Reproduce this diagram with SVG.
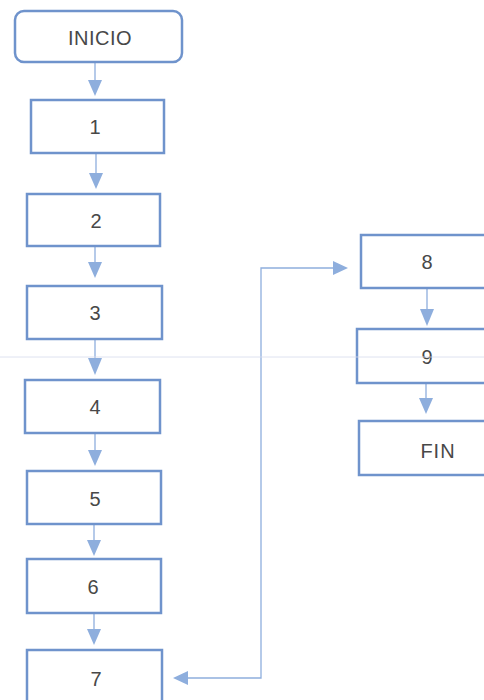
<svg xmlns="http://www.w3.org/2000/svg" width="484" height="700" viewBox="0 0 484 700">
<style>
.box{fill:#fff;stroke:#6f93cc;stroke-width:2.5}
.lbl{font-family:"Liberation Sans",Arial,sans-serif;font-size:20px;fill:#484848;text-anchor:middle}
.ln{stroke:#8eaedd;stroke-width:1.3;fill:none}
.hd{fill:#8eaedd}
</style>
<rect width="484" height="700" fill="#fff"/>
<g id="connectors">
<line class="ln" x1="95" y1="62" x2="95" y2="82"/><polygon class="hd" points="88,80 102,80 95,96"/>
<line class="ln" x1="96" y1="153" x2="96" y2="175"/><polygon class="hd" points="89,173 103,173 96,189"/>
<line class="ln" x1="95" y1="246" x2="95" y2="264"/><polygon class="hd" points="88,262 102,262 95,278"/>
<line class="ln" x1="95" y1="339" x2="95" y2="360"/><polygon class="hd" points="88,358 102,358 95,375"/>
<line class="ln" x1="95" y1="433" x2="95" y2="452"/><polygon class="hd" points="88,450 102,450 95,466"/>
<line class="ln" x1="94" y1="524" x2="94" y2="542"/><polygon class="hd" points="87,540 101,540 94,556"/>
<line class="ln" x1="94" y1="613" x2="94" y2="631"/><polygon class="hd" points="87,629 101,629 94,645"/>
<polyline class="ln" points="186,678 261,678 261,268 335,268"/>
<polygon class="hd" points="188,671 188,685 173,678"/>
<polygon class="hd" points="333,261 333,275 348,268"/>
<line class="ln" x1="427" y1="288" x2="427" y2="311"/><polygon class="hd" points="420,309 434,309 427,326"/>
<line class="ln" x1="426" y1="383" x2="426" y2="400"/><polygon class="hd" points="419,398 433,398 426,414"/>
</g>
<g id="inicio"><rect class="box" x="15" y="11" width="167" height="51" rx="9"/><text class="lbl" x="100" y="45" font-size="19" letter-spacing="0.5">INICIO</text></g>
<g id="n1"><rect class="box" x="31" y="100" width="133" height="53"/><text class="lbl" x="95" y="134">1</text></g>
<g id="n2"><rect class="box" x="27" y="194" width="133" height="52"/><text class="lbl" x="96" y="228">2</text></g>
<g id="n3"><rect class="box" x="27" y="286" width="135" height="53"/><text class="lbl" x="95" y="320">3</text></g>
<g id="n4"><rect class="box" x="25" y="380" width="135" height="53"/><text class="lbl" x="95" y="414">4</text></g>
<g id="n5"><rect class="box" x="27" y="471" width="134" height="53"/><text class="lbl" x="95" y="506">5</text></g>
<g id="n6"><rect class="box" x="27" y="559" width="134" height="54"/><text class="lbl" x="93" y="594">6</text></g>
<g id="n7"><rect class="box" x="27" y="650" width="135" height="60"/><text class="lbl" x="96" y="686">7</text></g>
<g id="n8"><rect class="box" x="361" y="235" width="140" height="53"/><text class="lbl" x="427" y="269">8</text></g>
<g id="n9"><rect class="box" x="357" y="329" width="144" height="54"/><text class="lbl" x="427" y="364">9</text></g>
<g id="fin"><rect class="box" x="359" y="421" width="142" height="54"/><text class="lbl" x="438" y="458" font-size="19" letter-spacing="1">FIN</text></g>
<line x1="0" y1="357" x2="484" y2="357" stroke="#d8dcee" stroke-width="1" opacity="0.8"/>
</svg>
